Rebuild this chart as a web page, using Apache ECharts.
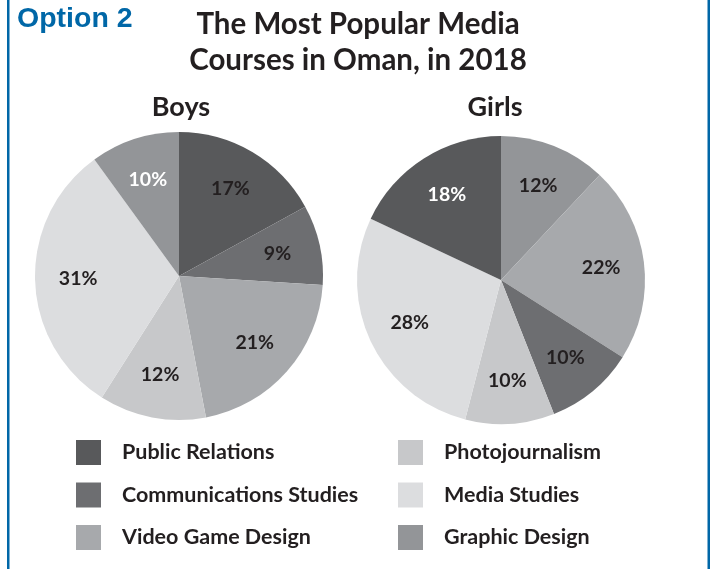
<!DOCTYPE html>
<html>
<head>
<meta charset="utf-8">
<script src="https://cdn.jsdelivr.net/npm/echarts@6/dist/echarts.min.js"></script>
<style>
html,body{margin:0;padding:0;background:#fff;}
#chart{width:712px;height:569px;}
</style>
</head>
<body>
<div id="chart"></div>
<script>
// ---- data ----
const boysCourses = ['Public Relations', 'Communications Studies', 'Video Game Design', 'Photojournalism', 'Media Studies', 'Graphic Design'];
const boysValues = [17, 9, 21, 12, 31, 10];
const girlsCourses = ['Graphic Design', 'Video Game Design', 'Communications Studies', 'Photojournalism', 'Media Studies', 'Public Relations'];
const girlsValues = [12, 22, 10, 10, 28, 18];
const legendLeft = ['Public Relations', 'Communications Studies', 'Video Game Design'];
const legendRight = ['Photojournalism', 'Media Studies', 'Graphic Design'];

// ---- styles ----
const courseColors = {
  'Public Relations': '#58595b',
  'Communications Studies': '#6d6e71',
  'Video Game Design': '#a7a9ac',
  'Photojournalism': '#c7c8ca',
  'Media Studies': '#dcdddf',
  'Graphic Design': '#939598'
};
const whiteLabel = { boys: 'Graphic Design', girls: 'Public Relations' };
const FONT = 'Lato';
const DARK = '#231f20';
const R = 144;
const LABEL_R = R * 1.36;

function pieData(names, values) {
  return names.map((n, i) => ({ name: n, value: values[i], itemStyle: { color: courseColors[n] } }));
}
function labelData(names, values, key) {
  return names.map((n, i) => ({
    name: n, value: values[i],
    itemStyle: { color: 'rgba(0,0,0,0)' },
    label: { color: n === whiteLabel[key] ? '#ffffff' : DARK }
  }));
}
function pieSeries(names, values, center) {
  return {
    type: 'pie', radius: [0, R], center: center, startAngle: 90, clockwise: true,
    label: { show: false }, labelLine: { show: false }, silent: true,
    itemStyle: { borderWidth: 0 },
    data: pieData(names, values)
  };
}
function labelSeries(names, values, center, key) {
  return {
    type: 'pie', radius: [0, LABEL_R], center: center, startAngle: 90, clockwise: true,
    silent: true, z: 5, labelLine: { show: false },
    label: { show: true, position: 'inside', formatter: '{c}%', fontFamily: FONT, fontWeight: 'bold', fontSize: 19.5 },
    data: labelData(names, values, key)
  };
}
function legend(names, left) {
  return {
    data: names.map(n => ({ name: n, icon: 'rect' })),
    orient: 'vertical', left: left, top: 435,
    itemWidth: 25, itemHeight: 25, itemGap: 17.5,
    selectedMode: false,
    textStyle: { fontFamily: FONT, fontWeight: 'bold', fontSize: 21.5, color: DARK, padding: [0, 0, 0, 16] }
  };
}

const chart = echarts.init(document.getElementById('chart'), null, { renderer: 'canvas' });
chart.setOption({
  animation: false,
  backgroundColor: '#ffffff',
  title: [
    { text: 'Option 2', left: 12, top: 0, textStyle: { fontFamily: 'Liberation Sans', fontWeight: 'bold', fontSize: 28.5, color: '#0067a7' } },
    { text: 'The Most Popular Media\nCourses in Oman, in 2018', left: 353, top: 1, textAlign: 'center',
      textStyle: { fontFamily: FONT, fontWeight: 'bold', fontSize: 29.5, lineHeight: 36, color: DARK } },
    { text: 'Boys', left: 176, top: 89, textAlign: 'center', textStyle: { fontFamily: FONT, fontWeight: 'bold', fontSize: 27, color: DARK } },
    { text: 'Girls', left: 490, top: 89, textAlign: 'center', textStyle: { fontFamily: FONT, fontWeight: 'bold', fontSize: 27, color: DARK } }
  ],
  legend: [legend(legendLeft, 71), legend(legendRight, 393)],
  graphic: [
    { type: 'rect', shape: { x: 7, y: 0, width: 2.5, height: 569 }, style: { fill: '#0067a7' }, silent: true },
    { type: 'rect', shape: { x: 707.5, y: 0, width: 2.5, height: 569 }, style: { fill: '#0067a7' }, silent: true }
  ],
  series: [
    pieSeries(boysCourses, boysValues, [179, 276]),
    pieSeries(girlsCourses, girlsValues, [501, 280]),
    labelSeries(boysCourses, boysValues, [179, 276], 'boys'),
    labelSeries(girlsCourses, girlsValues, [501, 280], 'girls')
  ]
});
</script>
</body>
</html>
